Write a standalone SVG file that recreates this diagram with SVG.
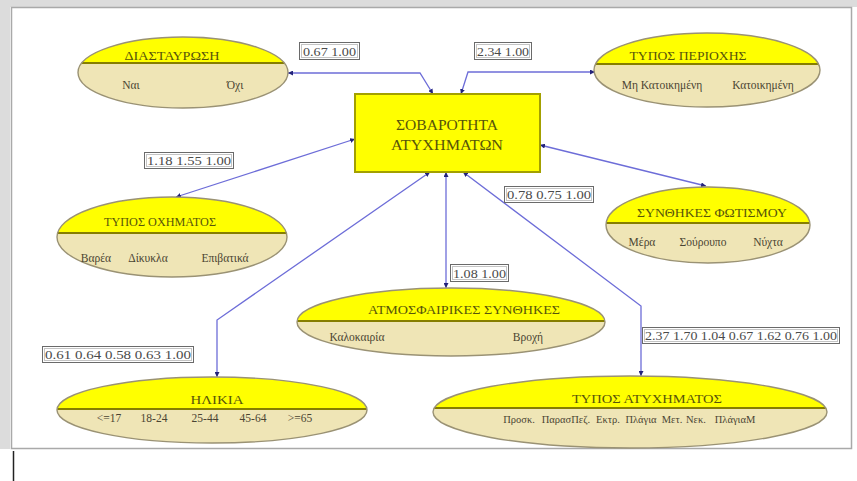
<svg xmlns="http://www.w3.org/2000/svg" width="857" height="481" viewBox="0 0 857 481">
  <defs>
    <style>
      .frame-band { fill: #dcdcdc; }
      .frame { fill: #ffffff; stroke: #a9a9a9; stroke-width: 1.5; }
      .ov-bot { fill: #efe5b6; }
      .ov-top { fill: #ffff00; }
      .ov-edge { fill: none; stroke: #9a9274; stroke-width: 1.4; }
      .div { stroke: #867e00; stroke-width: 1.8; }
      .title { font-family: "Liberation Serif", serif; font-size: 12px; fill: #57550a; text-anchor: middle; }
      .val { font-family: "Liberation Serif", serif; font-size: 11.5px; fill: #4a4432; text-anchor: middle; }
      .val.small { font-size: 10.5px; }
      .hub { fill: #ffff00; stroke: #a3a000; stroke-width: 2; }
      .hub-text { font-family: "Liberation Serif", serif; font-size: 14px; fill: #57550a; text-anchor: middle; }
      .conn { fill: none; stroke: #6d6dd8; stroke-width: 1.3; marker-start: url(#tip); marker-end: url(#tip); }
      .lbl-out { fill: #ffffff; stroke: #6a6a6a; stroke-width: 1; }
      .lbl-in { fill: none; stroke: #c4c4c4; stroke-width: 1; }
      .lbl-text { font-family: "Liberation Serif", serif; font-size: 12px; fill: #4a4a4a; }
    </style>
    <marker id="tip" viewBox="0 0 6 6" refX="6" refY="3" markerWidth="5" markerHeight="5" markerUnits="userSpaceOnUse" orient="auto-start-reverse">
      <path d="M0,0 L6,3 L0,6 Z" fill="#23237a"/>
    </marker>
  </defs>

  <!-- window frame -->
  <rect class="frame-band" x="0" y="0" width="857" height="7"/>
  <rect class="frame-band" x="0" y="0" width="10" height="449"/>
  <rect class="frame" x="11.5" y="7.5" width="840" height="441"/>
  <line x1="13.5" y1="451" x2="13.5" y2="481" stroke="#222222" stroke-width="1.5"/>

  <!-- connectors -->
  <g id="connectors">
    <path class="conn" d="M288,73 H420 L433,94"/>
    <path class="conn" d="M595,72 H468 L461,94"/>
    <path class="conn" d="M176,197 L355,139"/>
    <path class="conn" d="M540,145 L706,186"/>
    <path class="conn" d="M446,172 V288"/>
    <path class="conn" d="M430,172 L217,320 V377"/>
    <path class="conn" d="M463,172 L641,306 V376"/>
  </g>

  <!-- link labels -->
  <g id="labels">
    <g id="lbl-diastavrosi">
      <rect class="lbl-out" x="299.5" y="42.5" width="60" height="17"/>
      <rect class="lbl-in" x="301.5" y="44.5" width="56" height="13"/>
      <text class="lbl-text" x="303" y="55.5" textLength="53" lengthAdjust="spacingAndGlyphs">0.67 1.00</text>
    </g>
    <g id="lbl-periochi">
      <rect class="lbl-out" x="474.5" y="42.5" width="57" height="17"/>
      <rect class="lbl-in" x="476.5" y="44.5" width="53" height="13"/>
      <text class="lbl-text" x="477" y="55.5" textLength="52" lengthAdjust="spacingAndGlyphs">2.34 1.00</text>
    </g>
    <g id="lbl-ochima">
      <rect class="lbl-out" x="144.5" y="152.5" width="89" height="16"/>
      <rect class="lbl-in" x="146.5" y="154.5" width="85" height="12"/>
      <text class="lbl-text" x="147" y="165" textLength="84" lengthAdjust="spacingAndGlyphs">1.18 1.55 1.00</text>
    </g>
    <g id="lbl-fotismos">
      <rect class="lbl-out" x="504.5" y="186.5" width="89" height="16"/>
      <rect class="lbl-in" x="506.5" y="188.5" width="85" height="12"/>
      <text class="lbl-text" x="507" y="199" textLength="84" lengthAdjust="spacingAndGlyphs">0.78 0.75 1.00</text>
    </g>
    <g id="lbl-atmosfaira">
      <rect class="lbl-out" x="450.5" y="264.5" width="58" height="17"/>
      <rect class="lbl-in" x="452.5" y="266.5" width="54" height="13"/>
      <text class="lbl-text" x="453" y="277.5" textLength="53" lengthAdjust="spacingAndGlyphs">1.08 1.00</text>
    </g>
    <g id="lbl-ilikia">
      <rect class="lbl-out" x="42.5" y="346.5" width="151" height="16"/>
      <rect class="lbl-in" x="44.5" y="348.5" width="147" height="12"/>
      <text class="lbl-text" x="45" y="359" textLength="146" lengthAdjust="spacingAndGlyphs">0.61 0.64 0.58 0.63 1.00</text>
    </g>
    <g id="lbl-atychima">
      <rect class="lbl-out" x="642.5" y="327.5" width="197" height="16"/>
      <rect class="lbl-in" x="644.5" y="329.5" width="193" height="12"/>
      <text class="lbl-text" x="645" y="340" textLength="192" lengthAdjust="spacingAndGlyphs">2.37 1.70 1.04 0.67 1.62 0.76 1.00</text>
    </g>
  </g>

  <!-- central node -->
  <g id="n-sovarotita">
    <rect class="hub" x="355" y="94" width="185" height="78"/>
    <text class="hub-text" x="447" y="130" textLength="102" lengthAdjust="spacingAndGlyphs">ΣΟΒΑΡΟΤΗΤΑ</text>
    <text class="hub-text" x="447" y="150" textLength="112" lengthAdjust="spacingAndGlyphs">ΑΤΥΧΗΜΑΤΩΝ</text>
  </g>

  <!-- variable nodes -->
  <g id="n-diastavrosi">
    <ellipse class="ov-bot" cx="183" cy="72.5" rx="105" ry="35.5"/>
    <path class="ov-top" d="M81.8,63 A105,35.5 0 0 1 284.2,63 Z"/>
    <line class="div" x1="81.8" y1="63" x2="284.2" y2="63"/>
    <ellipse class="ov-edge" cx="183" cy="72.5" rx="105" ry="35.5"/>
    <text class="title" x="172" y="59.5" textLength="95" lengthAdjust="spacingAndGlyphs">ΔΙΑΣΤΑΥΡΩΣΗ</text>
    <text class="val" x="131" y="89">Ναι</text>
    <text class="val" x="235" y="89">Όχι</text>
  </g>

  <g id="n-periochi">
    <ellipse class="ov-bot" cx="707" cy="70" rx="113" ry="37"/>
    <path class="ov-top" d="M595.5,64 A113,37 0 0 1 818.5,64 Z"/>
    <line class="div" x1="595.5" y1="64" x2="818.5" y2="64"/>
    <ellipse class="ov-edge" cx="707" cy="70" rx="113" ry="37"/>
    <text class="title" x="688" y="59.5" textLength="117" lengthAdjust="spacingAndGlyphs">ΤΥΠΟΣ ΠΕΡΙΟΧΗΣ</text>
    <text class="val" x="662" y="89">Μη Κατοικημένη</text>
    <text class="val" x="763" y="89">Κατοικημένη</text>
  </g>

  <g id="n-ochima">
    <ellipse class="ov-bot" cx="172" cy="237" rx="115" ry="40"/>
    <path class="ov-top" d="M57.6,233 A115,40 0 0 1 286.4,233 Z"/>
    <line class="div" x1="57.6" y1="233" x2="286.4" y2="233"/>
    <ellipse class="ov-edge" cx="172" cy="237" rx="115" ry="40"/>
    <text class="title" x="160" y="225.5" textLength="112" lengthAdjust="spacingAndGlyphs">ΤΥΠΟΣ ΟΧΗΜΑΤΟΣ</text>
    <text class="val" x="96" y="262">Βαρέα</text>
    <text class="val" x="148" y="262">Δίκυκλα</text>
    <text class="val" x="225" y="262">Επιβατικά</text>
  </g>

  <g id="n-fotismos">
    <ellipse class="ov-bot" cx="708" cy="225" rx="102" ry="38"/>
    <path class="ov-top" d="M606.1,223 A102,38 0 0 1 809.9,223 Z"/>
    <line class="div" x1="606.1" y1="223" x2="809.9" y2="223"/>
    <ellipse class="ov-edge" cx="708" cy="225" rx="102" ry="38"/>
    <text class="title" x="712" y="217" textLength="150" lengthAdjust="spacingAndGlyphs">ΣΥΝΘΗΚΕΣ ΦΩΤΙΣΜΟΥ</text>
    <text class="val" x="642" y="246">Μέρα</text>
    <text class="val" x="703" y="246">Σούρουπο</text>
    <text class="val" x="768" y="246">Νύχτα</text>
  </g>

  <g id="n-atmosfaira">
    <ellipse class="ov-bot" cx="451" cy="322" rx="154" ry="34"/>
    <path class="ov-top" d="M297.1,321 A154,34 0 0 1 604.9,321 Z"/>
    <line class="div" x1="297.1" y1="321" x2="604.9" y2="321"/>
    <ellipse class="ov-edge" cx="451" cy="322" rx="154" ry="34"/>
    <text class="title" x="464" y="314" textLength="192" lengthAdjust="spacingAndGlyphs">ΑΤΜΟΣΦΑΙΡΙΚΕΣ ΣΥΝΘΗΚΕΣ</text>
    <text class="val" x="357" y="341">Καλοκαιρία</text>
    <text class="val" x="528" y="341">Βροχή</text>
  </g>

  <g id="n-ilikia">
    <ellipse class="ov-bot" cx="212" cy="410" rx="155" ry="33"/>
    <path class="ov-top" d="M57.1,409 A155,33 0 0 1 366.9,409 Z"/>
    <line class="div" x1="57.1" y1="409" x2="366.9" y2="409"/>
    <ellipse class="ov-edge" cx="212" cy="410" rx="155" ry="33"/>
    <text class="title" x="217" y="404" textLength="53" lengthAdjust="spacingAndGlyphs">ΗΛΙΚΙΑ</text>
    <text class="val" x="109" y="422">&lt;=17</text>
    <text class="val" x="154" y="422">18-24</text>
    <text class="val" x="205" y="422">25-44</text>
    <text class="val" x="253" y="422">45-64</text>
    <text class="val" x="300" y="422">&gt;=65</text>
  </g>

  <g id="n-atychima">
    <ellipse class="ov-bot" cx="630" cy="412" rx="197" ry="36"/>
    <path class="ov-top" d="M434.2,408 A197,36 0 0 1 825.8,408 Z"/>
    <line class="div" x1="434.2" y1="408" x2="825.8" y2="408"/>
    <ellipse class="ov-edge" cx="630" cy="412" rx="197" ry="36"/>
    <text class="title" x="647" y="403" textLength="150" lengthAdjust="spacingAndGlyphs">ΤΥΠΟΣ ΑΤΥΧΗΜΑΤΟΣ</text>
    <text class="val small" x="519" y="423">Προσκ.</text>
    <text class="val small" x="566" y="423">ΠαρασΠεζ.</text>
    <text class="val small" x="608" y="423">Εκτρ.</text>
    <text class="val small" x="641" y="423">Πλάγια</text>
    <text class="val small" x="672" y="423">Μετ.</text>
    <text class="val small" x="696" y="423">Νεκ.</text>
    <text class="val small" x="735" y="423">ΠλάγιαΜ</text>
  </g>
</svg>
